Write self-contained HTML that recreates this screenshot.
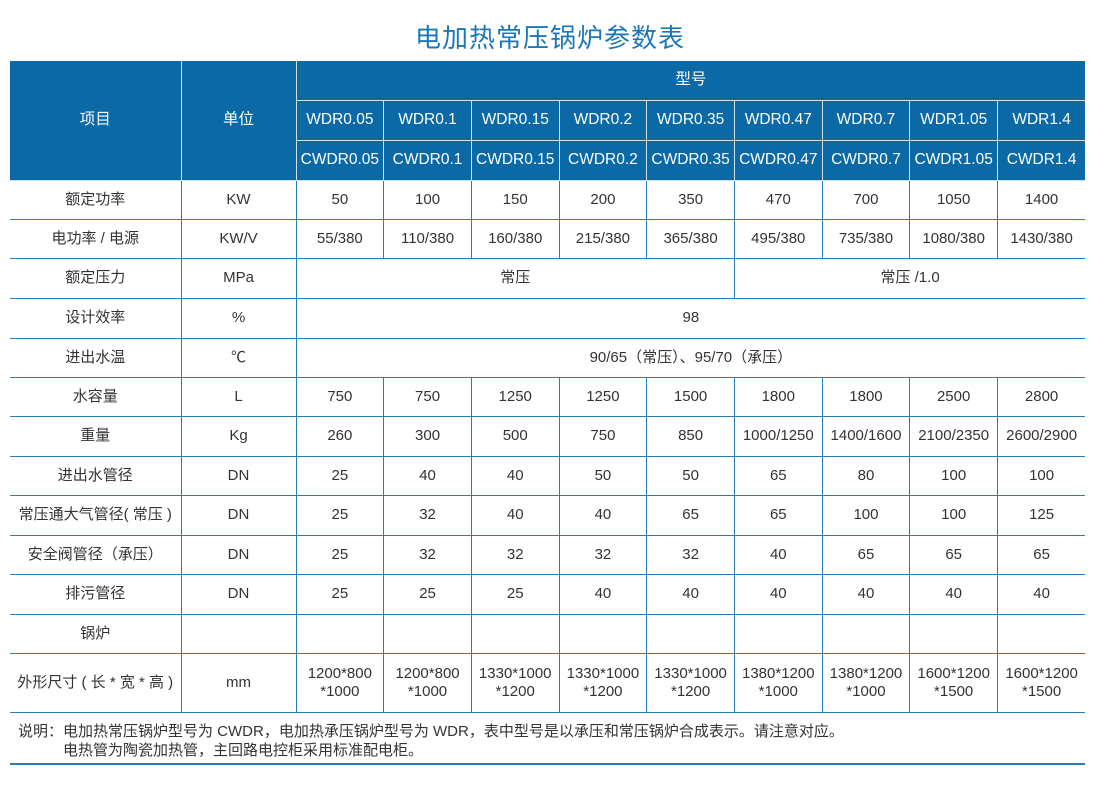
<!DOCTYPE html>
<html><head><meta charset="utf-8"><style>
body{margin:0;background:#fff;width:1100px;height:788px;position:relative;font-family:"Liberation Sans","Noto Sans CJK SC",sans-serif;color:#333;overflow:hidden}
.t{position:absolute;left:0;width:1100px;top:18px;text-align:center;font-size:26px;color:#1b78b8;letter-spacing:1px}
table{position:absolute;left:10px;top:61px;border-collapse:collapse;table-layout:fixed;width:1075px}
td{border:1.5px solid #2b7bb6;text-align:center;font-size:15px;padding:0;line-height:18px;white-space:nowrap}
tr td:first-child{border-left:none}
tr td:last-child{border-right:none}
.h td{background:#0b69a5;color:#fff;border-color:#cfe2f0;font-size:15.5px}
.h td.e{border-top:none}
.n{position:absolute;left:18px;top:722px;font-size:15px;line-height:19px;color:#333}
.bl{position:absolute;left:10px;width:1075px;top:763px;height:2px;background:#2b7bb6}
</style></head><body>
<div class="t">电加热常压锅炉参数表</div>
<table>
<colgroup><col style="width:171px"><col style="width:115px"><col span="9" style="width:87.7px"></colgroup>
<tr class="h" style="height:39px"><td rowspan="3" class="e" style="border-left:none">项目</td><td rowspan="3" class="e">单位</td><td colspan="9" class="e" style="border-right:none">型号</td></tr>
<tr class="h" style="height:40px"><td>WDR0.05</td><td>WDR0.1</td><td>WDR0.15</td><td>WDR0.2</td><td>WDR0.35</td><td>WDR0.47</td><td>WDR0.7</td><td>WDR1.05</td><td>WDR1.4</td></tr>
<tr class="h" style="height:40px"><td>CWDR0.05</td><td>CWDR0.1</td><td>CWDR0.15</td><td>CWDR0.2</td><td>CWDR0.35</td><td>CWDR0.47</td><td>CWDR0.7</td><td>CWDR1.05</td><td>CWDR1.4</td></tr>
<tr style="height:39px"><td>额定功率</td><td>KW</td><td>50</td><td>100</td><td>150</td><td>200</td><td>350</td><td>470</td><td>700</td><td>1050</td><td>1400</td></tr>
<tr style="height:39px"><td>电功率 / 电源</td><td>KW/V</td><td>55/380</td><td>110/380</td><td>160/380</td><td>215/380</td><td>365/380</td><td>495/380</td><td>735/380</td><td>1080/380</td><td>1430/380</td></tr>
<tr style="height:40px"><td>额定压力</td><td>MPa</td><td colspan="5">常压</td><td colspan="4">常压 /1.0</td></tr>
<tr style="height:40px"><td>设计效率</td><td>%</td><td colspan="9">98</td></tr>
<tr style="height:39px"><td>进出水温</td><td>℃</td><td colspan="9">90/65（常压）、95/70（承压）</td></tr>
<tr style="height:39px"><td>水容量</td><td>L</td><td>750</td><td>750</td><td>1250</td><td>1250</td><td>1500</td><td>1800</td><td>1800</td><td>2500</td><td>2800</td></tr>
<tr style="height:40px"><td>重量</td><td>Kg</td><td>260</td><td>300</td><td>500</td><td>750</td><td>850</td><td>1000/1250</td><td>1400/1600</td><td>2100/2350</td><td>2600/2900</td></tr>
<tr style="height:39px"><td>进出水管径</td><td>DN</td><td>25</td><td>40</td><td>40</td><td>50</td><td>50</td><td>65</td><td>80</td><td>100</td><td>100</td></tr>
<tr style="height:40px"><td>常压通大气管径( 常压 )</td><td>DN</td><td>25</td><td>32</td><td>40</td><td>40</td><td>65</td><td>65</td><td>100</td><td>100</td><td>125</td></tr>
<tr style="height:39px"><td>安全阀管径（承压）</td><td>DN</td><td>25</td><td>32</td><td>32</td><td>32</td><td>32</td><td>40</td><td>65</td><td>65</td><td>65</td></tr>
<tr style="height:40px"><td>排污管径</td><td>DN</td><td>25</td><td>25</td><td>25</td><td>40</td><td>40</td><td>40</td><td>40</td><td>40</td><td>40</td></tr>
<tr style="height:39px"><td>锅炉</td><td></td><td></td><td></td><td></td><td></td><td></td><td></td><td></td><td></td><td></td></tr>
<tr style="height:59px"><td>外形尺寸 ( 长 * 宽 * 高 )</td><td>mm</td><td>1200*800<br>*1000</td><td>1200*800<br>*1000</td><td>1330*1000<br>*1200</td><td>1330*1000<br>*1200</td><td>1330*1000<br>*1200</td><td>1380*1200<br>*1000</td><td>1380*1200<br>*1000</td><td>1600*1200<br>*1500</td><td>1600*1200<br>*1500</td></tr>
</table>
<div class="n">说明：电加热常压锅炉型号为 CWDR，电加热承压锅炉型号为 WDR，表中型号是以承压和常压锅炉合成表示。请注意对应。<br><span style="padding-left:45px">电热管为陶瓷加热管，主回路电控柜采用标准配电柜。</span></div>
<div class="bl"></div>
</body></html>
